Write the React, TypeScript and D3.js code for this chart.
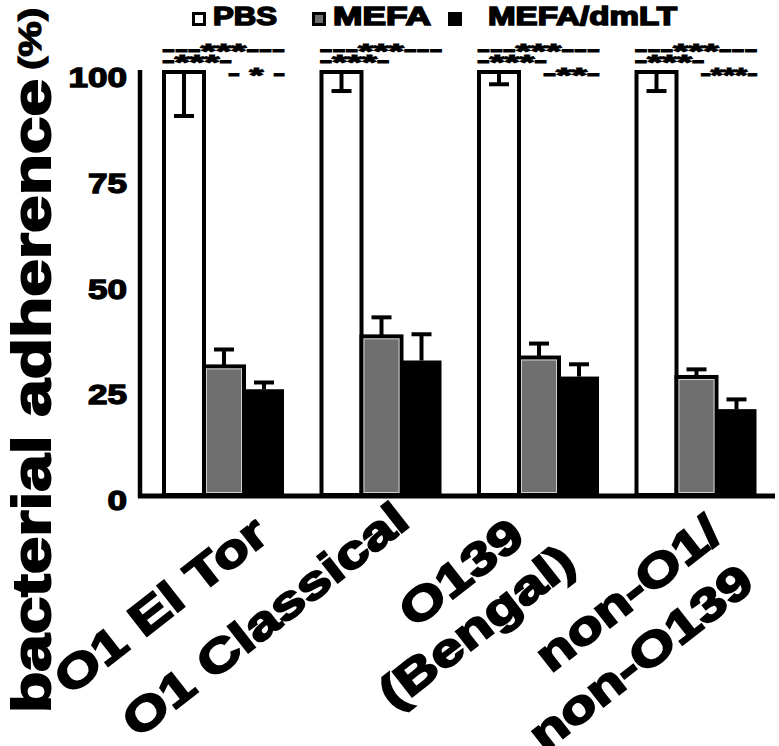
import React from "react";
import * as d3 from "d3";

// ---- data ----
const categories = ["O1 El Tor", "O1 Classical", "O139 (Bengal)", "non-O1/ non-O139"];
const categoryLines = [["O1 El Tor"], ["O1 Classical"], ["O139", "(Bengal)"], ["non-O1/", "non-O139"]];
const series = ["PBS", "MEFA", "MEFA/dmLT"];
const pbsValues = [100, 100, 100, 100];
const pbsErrors = [10.4, 4.5, 2.9, 4.5];
const mefaValues = [30.4, 37.5, 32.5, 27.9];
const mefaErrors = [4.0, 4.5, 3.3, 1.8];
const dmltValues = [25.0, 31.8, 28.0, 20.3];
const dmltErrors = [1.6, 6.2, 2.9, 2.3];
const yTicks = [0, 25, 50, 75, 100];
// significance marks: PBS vs all (row1), PBS vs MEFA (row2), MEFA vs MEFA/dmLT (row3)
const sigAll = ["***", "***", "***", "***"];
const sigPbsMefa = ["***", "***", "***", "***"];
const sigMefaDmlt = ["*", "", "**", "***"];

// ---- layout ----
const W = 779, H = 746;
const FONT = "'Liberation Sans', Arial, Helvetica, sans-serif";
const labelAngle = -38;
const labelAnchors = [[[-13, 539]], [[-30, 525]], [[-72, 541], [-21, 567]], [[-32, 538], [0, 587]]];
const legendItems = [
  { sq: 192, tx: 213, tw: 64, fill: "#ffffff" },
  { sq: 312, tx: 333, tw: 98, fill: "#6f6f6f" },
  { sq: 448, tx: 488, tw: 189, fill: "#000000" },
];

export default function App() {
  const y = d3.scaleLinear().domain([0, 100]).range([495, 72]);
  const x = d3
    .scaleBand<string>()
    .domain(categories)
    .range([164, 756.5])
    .paddingInner(37.5 / 157.5)
    .paddingOuter(0);
  const xs = d3.scaleBand<string>().domain(series).range([0, x.bandwidth()]);
  const sw = xs.bandwidth();
  const vals = [pbsValues, mefaValues, dmltValues];
  const errs = [pbsErrors, mefaErrors, dmltErrors];
  const capW = 20;

  return (
    <svg
      width={W}
      height={H}
      style={{ position: "absolute", left: 0, top: 0, background: "#fff" }}
      fontFamily={FONT}
      fontWeight="bold"
    >
      <rect x={0} y={0} width={W} height={H} fill="#fff" />
      {/* legend */}
      {legendItems.map((l, i) => (
        <g key={i}>
          <rect x={l.sq + 1.5} y={13.5} width={11} height={11} fill={l.fill} stroke="#000" strokeWidth={3} />
          <text
            x={l.tx}
            y={25}
            fontSize={25}
            textLength={l.tw}
            lengthAdjust="spacingAndGlyphs"
            stroke="#000"
            strokeWidth={1.5}
          >
            {series[i]}
          </text>
        </g>
      ))}

      {/* y axis title */}
      <text
        transform={`translate(50,713) rotate(-90) scale(1.25,1)`}
        fontSize={54}
        stroke="#000"
        strokeWidth={2}
      >
        bacterial adherence
      </text>
      <text transform={`translate(41,70) rotate(-90) scale(1.25,1)`} fontSize={32} stroke="#000" strokeWidth={1.2}>
        (%)
      </text>

      {/* y tick labels */}
      {yTicks.map((t) => (
        <text
          key={t}
          transform={`translate(127,${y(t) + 15}) scale(1.3,1)`}
          textAnchor="end"
          fontSize={27}
          stroke="#000"
          strokeWidth={1.3}
        >
          {t}
        </text>
      ))}

      {/* bars */}
      {categories.map((c, ci) => {
        const x0 = x(c)!;
        return (
          <g key={c}>
            {series.map((s, si) => {
              const v = vals[si][ci];
              const bx = x0 + xs(s)!;
              const top = y(v);
              if (si === 2) {
                return <rect key={s} x={bx} y={top} width={sw} height={y(0) - top} fill="#000" />;
              }
              return (
                <g key={s}>
                  <rect
                    x={bx}
                    y={top}
                    width={sw}
                    height={y(0) - top}
                    fill={si === 0 ? "#fff" : "#6f6f6f"}
                    stroke="#000"
                    strokeWidth={4}
                  />
                  {si === 1 && (
                    <rect
                      x={bx + 2.5}
                      y={top + 2.5}
                      width={sw - 5}
                      height={y(0) - top - 5}
                      fill="none"
                      stroke="#cfcfcf"
                      strokeWidth={1}
                    />
                  )}
                </g>
              );
            })}
            {series.map((s, si) => {
              const v = vals[si][ci];
              const e = errs[si][ci];
              const cx = x0 + xs(s)! + sw / 2;
              const y1 = y(v);
              const y2 = si === 0 ? y(v - e) : y(v + e);
              return (
                <g key={"e" + s} stroke="#000" strokeWidth={4}>
                  <line x1={cx} x2={cx} y1={y1} y2={y2} />
                  <line x1={cx - capW / 2} x2={cx + capW / 2} y1={y2} y2={y2} />
                </g>
              );
            })}
            {/* significance */}
            <g fontSize={21} stroke="#000" strokeWidth={1.2}>
              <text x={x0 - 2} y={55.5} textLength={123} lengthAdjust="spacingAndGlyphs">
                {"---"}
                <tspan dy={2}>{sigAll[ci]}</tspan>
                <tspan dy={-2}>{"---"}</tspan>
              </text>
              <text x={x0 - 2} y={67} textLength={70} lengthAdjust="spacingAndGlyphs">
                {"-"}
                <tspan dy={2}>{sigPbsMefa[ci]}</tspan>
                <tspan dy={-2}>{"-"}</tspan>
              </text>
              {sigMefaDmlt[ci] && (
                <text x={x0 + 64} y={80} textLength={57} lengthAdjust="spacingAndGlyphs">
                  {sigMefaDmlt[ci].length === 1 ? "- " : "-"}
                  <tspan dy={2}>{sigMefaDmlt[ci]}</tspan>
                  <tspan dy={-2}>{sigMefaDmlt[ci].length === 1 ? " -" : "-"}</tspan>
                </text>
              )}
            </g>
          </g>
        );
      })}

      {/* axes */}
      <line x1={140} x2={140} y1={70} y2={498} stroke="#000" strokeWidth={4.5} />
      <line x1={138} x2={775} y1={496} y2={496} stroke="#000" strokeWidth={5} />

      {/* x labels */}
      {categories.map((c, ci) => {
        const end = x(c)! + x.bandwidth();
        return categoryLines[ci].map((line, li) => {
          const [dx, ay] = labelAnchors[ci][li];
          return (
            <text
              key={c + li}
              transform={`translate(${end + dx},${ay}) rotate(${labelAngle}) scale(1.27,1)`}
              textAnchor="end"
              fontSize={46}
              stroke="#000"
              strokeWidth={2}
            >
              {line}
            </text>
          );
        });
      })}
    </svg>
  );
}
